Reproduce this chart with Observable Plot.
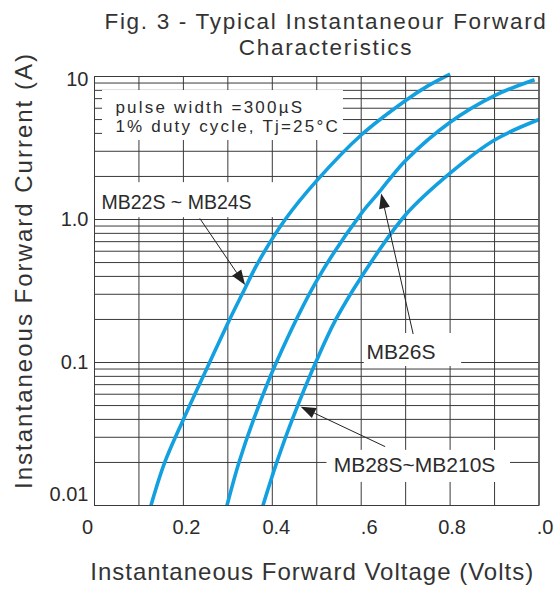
<!DOCTYPE html>
<html>
<head>
<meta charset="utf-8">
<script src="https://cdn.jsdelivr.net/npm/d3@7"></script>
<script src="https://cdn.jsdelivr.net/npm/@observablehq/plot@0.6"></script>
<style>
  body { margin: 0; background: #fff; font-family: "Liberation Sans", Arial, sans-serif; }
  #title { box-sizing: border-box; height: 60px; padding-top: 9px; margin-left: 94px; width: 464px;
           text-align: center; font-size: 22.5px; letter-spacing: 1.7px; color: #333; }
  #title div { height: 25.5px; line-height: 25.5px; white-space: nowrap; }
</style>
</head>
<body>
<div id="title"><div>Fig. 3 - Typical Instantaneour Forward</div><div>Characteristics</div></div>
<div id="chart"></div>
<script>
// ---- data ----
const seriesNames = ["MB22S ~ MB24S", "MB26S", "MB28S~MB210S"];
const voltsMB22 = [0.127, 0.158, 0.200, 0.259, 0.304, 0.332, 0.368, 0.429, 0.500, 0.600, 0.700, 0.750, 0.800];
const ampsMB22  = [0.01, 0.02, 0.04, 0.1, 0.2, 0.3, 0.5, 1.0, 1.87, 3.9, 6.8, 8.6, 10.4];
const voltsMB26 = [0.298, 0.325, 0.358, 0.409, 0.500, 0.600, 0.637, 0.661, 0.700, 0.800, 0.900, 0.990];
const ampsMB26  = [0.01, 0.02, 0.04, 0.1, 0.374, 1.1, 1.51, 1.87, 2.59, 4.79, 7.36, 9.5];
const voltsMB28 = [0.379, 0.410, 0.445, 0.500, 0.543, 0.600, 0.700, 0.800, 0.900, 1.000];
const ampsMB28  = [0.01, 0.02, 0.04, 0.104, 0.2, 0.395, 1.08, 2.11, 3.6, 5.0];

const xTickValues = [0, 0.2, 0.4, 0.6, 0.8, 1.0];
const xTickLabels = ["0", "0.2", "0.4", ".6", "0.8", ".0"];
const yTickValues = [0.01, 0.1, 1, 10];
const yTickLabels = ["0.01", "0.1", "1.0", "10"];
const xGrid = [0, 0.1, 0.2, 0.3, 0.4, 0.5, 0.6, 0.7, 0.8, 0.9, 1.0];
const yGrid = [0.01, 0.02, 0.03, 0.04, 0.05, 0.06, 0.07, 0.08, 0.09,
               0.1, 0.2, 0.3, 0.4, 0.5, 0.6, 0.7, 0.8, 0.9,
               1, 2, 3, 4, 5, 6, 7, 8, 9, 10];

const xLabel = "Instantaneous Forward Voltage (Volts)";
const yLabel = "Instantaneous Forward Current (A)";
const noteLines = ["pulse width =300µS", "1% duty cycle, Tj=25°C"];

// ---- annotation layout (data coordinates) ----
const boxes = [
  {x1: 0.018, x2: 0.560, y1: 3.57, y2: 7.98},
  {x1: 0.0,   x2: 0.420, y1: 1.03, y2: 1.81},
  {x1: 0.607, x2: 0.826, y1: 0.0938, y2: 0.1595},
  {x1: 0.523, x2: 0.936, y1: 0.0145, y2: 0.0243}
];
const notes = [
  {text: noteLines[0], x: 0.047, y: 5.6, size: 17},
  {text: noteLines[1], x: 0.047, y: 4.08, size: 17},
  {text: seriesNames[0], x: 0.0157, y: 1.19, size: 19.5},
  {text: seriesNames[1], x: 0.612, y: 0.105, size: 21},
  {text: seriesNames[2], x: 0.538, y: 0.0171, size: 21}
];
const arrows = [
  {x1: 0.238, y1: 1.01, x2: 0.340, y2: 0.345},
  {x1: 0.718, y1: 0.157, x2: 0.646, y2: 1.51},
  {x1: 0.655, y1: 0.0256, x2: 0.465, y2: 0.0487}
];
const xTickDx = [-7, 3, 4, 8, 2, 6];
const yTickDy = [-10.5, 0, 0, 3];
const letterSpacing = new Map([[xLabel, "1px"], [yLabel, "2px"], [noteLines[0], "2.2px"], [noteLines[1], "2.2px"]]);

// ---- build table ----
const rows = [];
[[voltsMB22, ampsMB22], [voltsMB26, ampsMB26], [voltsMB28, ampsMB28]].forEach(([vs, as], k) => {
  vs.forEach((v, i) => rows.push({series: seriesNames[k], v, a: as[i]}));
});

const ink = "#2b2b2b";
const gridColor = "#3a3a3a";
const blue = "#13a0e0";

function arrowMark(index, scales) {
  const g = d3.create("svg:g").attr("aria-label", "arrows");
  for (const a of arrows) {
    const x1 = scales.x(a.x1), y1 = scales.y(a.y1), x2 = scales.x(a.x2), y2 = scales.y(a.y2);
    const ang = Math.atan2(y2 - y1, x2 - x1);
    const L = 15, W = 5.5;
    const bx = x2 - L * Math.cos(ang), by = y2 - L * Math.sin(ang);
    g.append("line").attr("x1", x1).attr("y1", y1).attr("x2", bx).attr("y2", by)
      .attr("stroke", "#222").attr("stroke-width", 1);
    const px = -Math.sin(ang) * W, py = Math.cos(ang) * W;
    g.append("path").attr("d", `M${x2},${y2}L${bx + px},${by + py}L${bx - px},${by - py}Z`).attr("fill", "#222");
  }
  return g.node();
}

const marks = [
  Plot.ruleX(xGrid, {x: d => d, stroke: gridColor, strokeWidth: 1}),
  Plot.ruleY(yGrid, {y: d => d, stroke: gridColor, strokeWidth: 1}),
  Plot.rect(boxes, {x1: "x1", x2: "x2", y1: "y1", y2: "y2", fill: "white"}),
  Plot.line(rows, {x: "v", y: "a", z: "series", stroke: blue, strokeWidth: 3.6,
                   curve: "catmull-rom", strokeLinecap: "butt"}),
  Plot.frame({stroke: gridColor, strokeWidth: 1}),
  arrowMark
];

notes.forEach(n => {
  marks.push(Plot.text([n], {x: "x", y: "y", text: "text", textAnchor: "start", lineAnchor: "bottom",
    fontSize: n.size, fill: ink}));
});
xTickValues.forEach((t, i) => {
  marks.push(Plot.text([t], {x: d => d, text: () => xTickLabels[i], frameAnchor: "bottom",
    lineAnchor: "bottom", dy: 28, dx: xTickDx[i], fontSize: 20, fill: ink}));
});
yTickValues.forEach((t, i) => {
  marks.push(Plot.text([t], {y: d => d, text: () => yTickLabels[i], frameAnchor: "left",
    textAnchor: "end", dx: -6, dy: yTickDy[i], fontSize: 20, fill: ink}));
});
marks.push(Plot.text([xLabel], {text: d => d, frameAnchor: "bottom", lineAnchor: "bottom", textAnchor: "middle",
  dy: 74, dx: -4.5, fontSize: 24, fill: "#333"}));
marks.push(Plot.text([yLabel], {text: d => d, frameAnchor: "left", rotate: -90, lineAnchor: "middle",
  textAnchor: "middle", dx: -70, dy: -20.5, fontSize: 24, fill: "#333"}));

const chart = Plot.plot({
  width: 558,
  height: 529,
  marginLeft: 94,
  marginRight: 19.5,
  marginTop: 16,
  marginBottom: 84,
  style: {fontFamily: "'Liberation Sans', Arial, sans-serif", background: "white", overflow: "visible"},
  x: {domain: [0, 1], axis: null},
  y: {type: "log", domain: [0.01, 10], axis: null},
  marks
});
d3.select(chart).selectAll("text").each(function () {
  const ls = letterSpacing.get(this.textContent);
  if (ls) this.style.letterSpacing = ls;
});
document.getElementById("chart").appendChild(chart);
</script>
</body>
</html>
